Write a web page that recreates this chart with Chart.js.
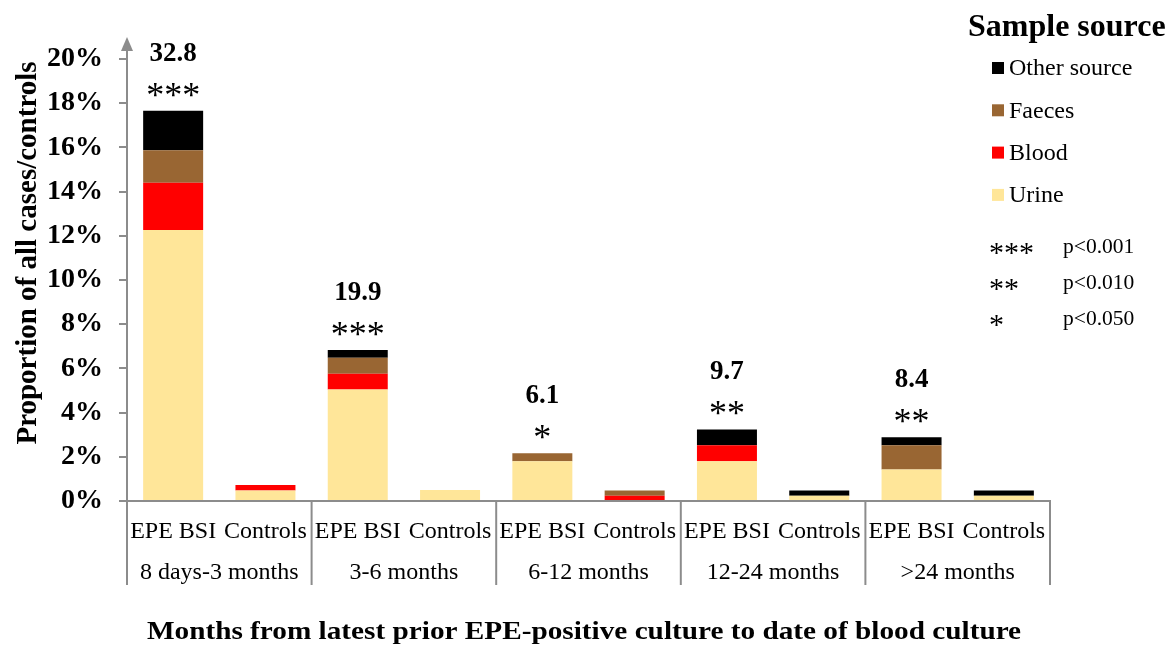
<!DOCTYPE html>
<html>
<head>
<meta charset="utf-8">
<script src="https://cdn.jsdelivr.net/npm/chart.js@4.4.1/dist/chart.umd.min.js"></script>
<style>
  html, body { margin: 0; padding: 0; background: #fff; }
  #wrap { width: 1174px; height: 646px; position: relative; }
</style>
</head>
<body>
<div id="wrap"><canvas id="c" width="1174" height="646"></canvas></div>
<script>
// Time windows (outer level of the x axis) and the two bars inside each
const groups = ['8 days-3 months', '3-6 months', '6-12 months', '12-24 months', '>24 months'];
const subLabels = ['EPE BSI', 'Controls'];
const categories = groups.flatMap(() => subLabels);

// Proportion of all cases/controls (%), by sample source of the prior culture
const urine  = [12.26, 0.47, 5.04, 0.50, 1.80, 0.00, 1.80, 0.24, 1.43, 0.24];
const blood  = [ 2.14, 0.25, 0.72, 0.00, 0.00, 0.24, 0.72, 0.00, 0.00, 0.00];
const faeces = [ 1.47, 0.00, 0.72, 0.00, 0.36, 0.24, 0.00, 0.00, 1.09, 0.00];
const other  = [ 1.79, 0.00, 0.35, 0.00, 0.00, 0.00, 0.72, 0.24, 0.36, 0.24];

// Odds ratio and significance shown above each EPE BSI bar
const oddsRatios   = ['32.8', '19.9', '6.1', '9.7', '8.4'];
const significance = ['***', '***', '*', '**', '**'];
const pLevels = [['***', 'p<0.001'], ['**', 'p<0.010'], ['*', 'p<0.050']];

// y axis: 0% to 20% in steps of 2
const yMin = 0, yMax = 20, yStep = 2;

const xTitle = 'Months from latest prior EPE-positive culture to date of blood culture';
const yTitle = 'Proportion of all cases/controls';
const legendTitle = 'Sample source';

const SERIF = '"Liberation Serif", "Times New Roman", serif';
const AXIS_GREY = '#8c8c8c';

const seriesDefs = [
  { label: 'Urine',        data: urine,  color: '#FFE699' },
  { label: 'Blood',        data: blood,  color: '#FF0000' },
  { label: 'Faeces',       data: faeces, color: '#996633' },
  { label: 'Other source', data: other,  color: '#000000' }
];

const decorations = {
  id: 'decorations',
  afterDraw(chart) {
    const { ctx, chartArea, scales: { x, y } } = chart;
    ctx.save();

    // arrow head on top of the y axis
    ctx.strokeStyle = AXIS_GREY;
    ctx.fillStyle = AXIS_GREY;
    ctx.lineWidth = 2;
    ctx.beginPath();
    ctx.moveTo(chartArea.left, chartArea.top);
    ctx.lineTo(chartArea.left, chartArea.top - 12);
    ctx.stroke();
    ctx.beginPath();
    ctx.moveTo(chartArea.left, chartArea.top - 22);
    ctx.lineTo(chartArea.left - 6, chartArea.top - 8);
    ctx.lineTo(chartArea.left + 6, chartArea.top - 8);
    ctx.closePath();
    ctx.fill();

    // group separators below the x axis
    const sepBottom = chartArea.bottom + 84;
    const bounds = [chartArea.left];
    for (let g = 1; g < groups.length; g++) {
      bounds.push((x.getPixelForValue(2 * g - 1) + x.getPixelForValue(2 * g)) / 2);
    }
    bounds.push(chartArea.right);
    ctx.lineWidth = 2;
    bounds.forEach(bx => {
      ctx.beginPath();
      ctx.moveTo(bx, chartArea.bottom);
      ctx.lineTo(bx, sepBottom);
      ctx.stroke();
    });

    // group names
    ctx.fillStyle = '#000';
    ctx.font = '24px ' + SERIF;
    ctx.textAlign = 'center';
    ctx.textBaseline = 'middle';
    groups.forEach((g, i) => {
      ctx.fillText(g, (bounds[i] + bounds[i + 1]) / 2, chartArea.bottom + 72);
    });

    // x axis title (slightly widened lettering)
    ctx.save();
    ctx.translate(584, 633);
    ctx.scale(1.17, 1);
    ctx.font = 'bold 25px ' + SERIF;
    ctx.fillText(xTitle, 0, 0);
    ctx.restore();

    // odds ratios and significance stars above the EPE BSI bars
    groups.forEach((g, i) => {
      const idx = 2 * i;
      const total = urine[idx] + blood[idx] + faeces[idx] + other[idx];
      const bx = x.getPixelForValue(idx);
      const top = y.getPixelForValue(total);
      ctx.font = 'bold 27px ' + SERIF;
      ctx.textBaseline = 'middle';
      ctx.textAlign = 'center';
      ctx.fillText(oddsRatios[i], bx, top - 57);
      ctx.font = '36px ' + SERIF;
      ctx.textBaseline = 'alphabetic';
      ctx.fillText(significance[i], bx, top - 22 + 18);
    });

    // y axis title
    ctx.save();
    ctx.translate(29, 253);
    ctx.rotate(-Math.PI / 2);
    ctx.font = 'bold 29px ' + SERIF;
    ctx.textAlign = 'center';
    ctx.textBaseline = 'middle';
    ctx.fillText(yTitle, 0, 0);
    ctx.restore();

    // legend
    ctx.textAlign = 'left';
    ctx.textBaseline = 'middle';
    ctx.font = 'bold 32px ' + SERIF;
    ctx.fillText(legendTitle, 968, 28);
    const items = chart.data.datasets.slice().reverse();
    ctx.font = '24px ' + SERIF;
    items.forEach((ds, i) => {
      const cy = 68 + i * 42.3;
      ctx.fillStyle = ds.backgroundColor;
      ctx.fillRect(992, cy - 6, 12, 12);
      ctx.fillStyle = '#000';
      ctx.fillText(ds.label, 1009, cy + 1);
    });
    pLevels.forEach(([stars, txt], i) => {
      const cy = 247 + i * 36;
      ctx.font = '30px ' + SERIF;
      ctx.textBaseline = 'alphabetic';
      ctx.fillText(stars, 989, cy + 15);
      ctx.font = '21.5px ' + SERIF;
      ctx.textBaseline = 'middle';
      ctx.fillText(txt, 1063, cy);
    });

    ctx.restore();
  }
};

new Chart(document.getElementById('c'), {
  type: 'bar',
  data: {
    labels: categories,
    datasets: seriesDefs.map(s => ({
      label: s.label,
      data: s.data,
      backgroundColor: s.color,
      borderWidth: 0,
      categoryPercentage: 1.0,
      barPercentage: 0.65
    }))
  },
  options: {
    responsive: false,
    devicePixelRatio: 1,
    animation: false,
    layout: { padding: { left: 0, right: 124, top: 59, bottom: 0 } },
    plugins: { legend: { display: false }, tooltip: { enabled: false } },
    scales: {
      x: {
        stacked: true,
        grid: { display: false, drawTicks: false },
        border: { display: true, color: AXIS_GREY, width: 2 },
        ticks: {
          color: '#000',
          font: { family: SERIF, size: 24 },
          padding: 16,
          maxRotation: 0,
          autoSkip: false
        },
        afterFit(scale) { scale.height = 145; }
      },
      y: {
        stacked: true,
        min: yMin,
        max: yMax,
        grid: { display: true, drawOnChartArea: false, drawTicks: true, tickLength: 8, color: AXIS_GREY, lineWidth: 2 },
        border: { display: true, color: AXIS_GREY, width: 2 },
        ticks: {
          stepSize: yStep,
          color: '#000',
          font: { family: SERIF, size: 28, weight: 'bold' },
          padding: 16,
          callback: v => v + '%'
        },
        afterFit(scale) { scale.width = 127; }
      }
    }
  },
  plugins: [decorations]
});
</script>
</body>
</html>
